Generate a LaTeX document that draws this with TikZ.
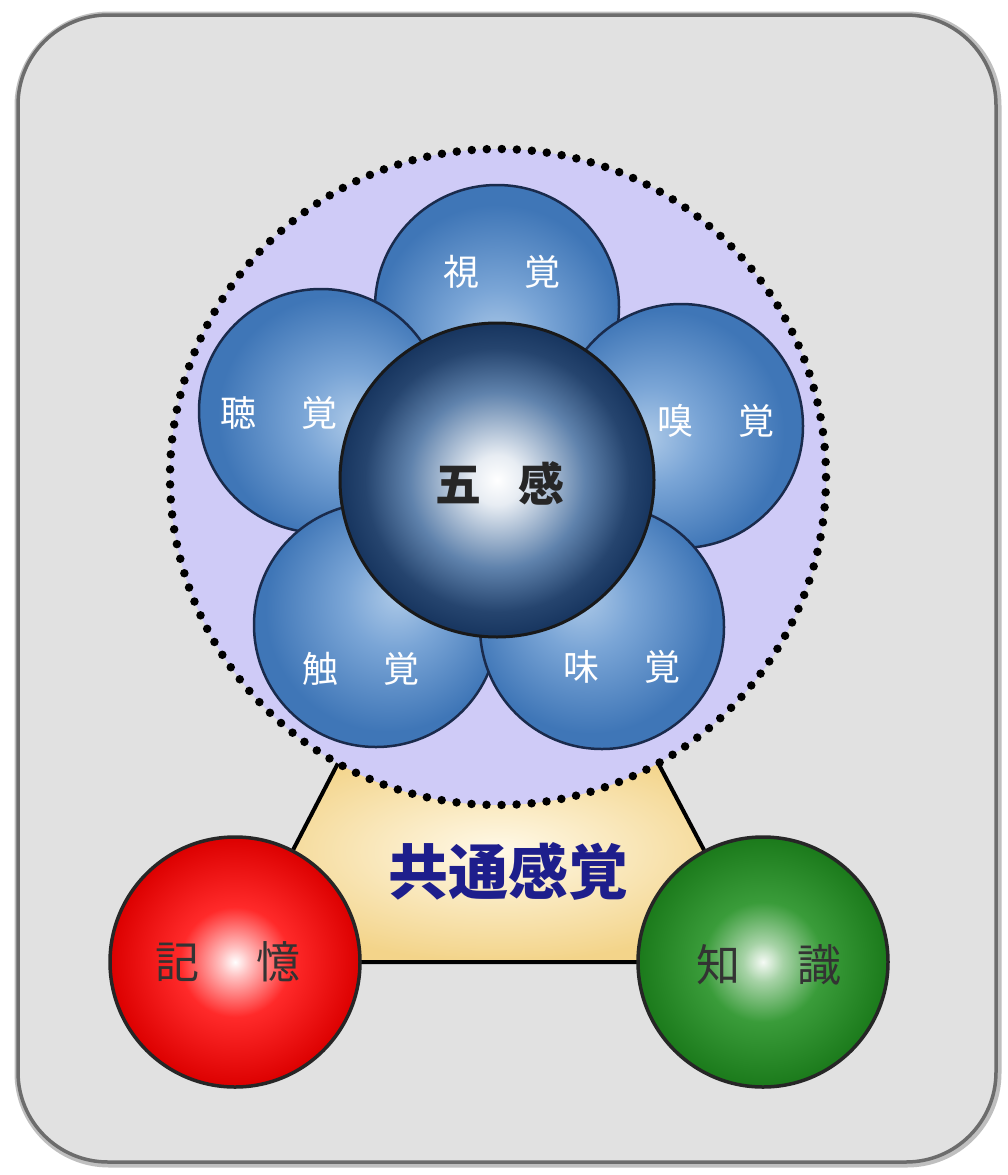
\documentclass[tikz,border=0pt]{standalone}
\usepackage{fontspec}
\setmainfont{Noto Sans CJK JP}
\usetikzlibrary{positioning}

\definecolor{framefill}{HTML}{E1E1E1}
\definecolor{framegray}{HTML}{6C6C6C}
\definecolor{lavender}{HTML}{CFCBF7}
\definecolor{petallight}{HTML}{AECAE8}
\definecolor{petalmid}{HTML}{7AA5D6}
\definecolor{petaldark}{HTML}{3F76B7}
\definecolor{petalline}{HTML}{1A2B4C}
\definecolor{spheremid}{HTML}{5F82AC}
\definecolor{spheredark}{HTML}{17355F}
\definecolor{redmid}{HTML}{FF2A2A}
\definecolor{reddark}{HTML}{DC0000}
\definecolor{greenmid}{HTML}{3A9C3A}
\definecolor{greendark}{HTML}{1B7A1B}
\definecolor{commonblue}{HTML}{1E1E8C}

\pgfdeclareradialshading{petalshade}{\pgfpoint{0bp}{-8bp}}{color(0bp)=(petallight); color(10bp)=(petalmid); color(25bp)=(petaldark); color(50bp)=(petaldark)}
\pgfdeclareradialshading{fiveshade}{\pgfpoint{0bp}{0bp}}{color(0bp)=(white); color(4bp)=(white!85!spheremid); color(14bp)=(spheremid); color(21bp)=(spheredark!80!spheremid); color(25bp)=(spheredark); color(50bp)=(spheredark)}
\pgfdeclareradialshading{redshade}{\pgfpoint{0bp}{0bp}}{color(0bp)=(white); color(3bp)=(white!70!redmid); color(11bp)=(redmid); color(25bp)=(reddark); color(50bp)=(reddark)}
\pgfdeclareradialshading{greenshade}{\pgfpoint{0bp}{0bp}}{color(0bp)=(white!95!greenmid); color(4bp)=(white!55!greenmid); color(12bp)=(greenmid); color(25bp)=(greendark); color(50bp)=(greendark)}

\begin{document}
\begin{tikzpicture}[
                x=1pt, y=-1pt,
                petal/.style={
                    circle,
                    draw=petalline,
                    line width=2.5pt,
                    minimum size=244pt,
                    inner sep=0,
                    shading=petalshade
                },
                sphere/.style={
                    circle,
                    draw=black!85,
                    line width=3.5pt,
                    minimum size=250pt,
                    inner sep=0
                },
                senselabel/.style={
                    text=white,
                    font=\fontsize{36}{40}\selectfont,
                    inner sep=0
                },
                ballabel/.style={
                    text=black!80,
                    font=\fontsize{44}{48}\selectfont,
                    inner sep=0
                }
            ]
            \fill[white] (0,0) rectangle (1008,1175);
            \useasboundingbox (0,0) rectangle (1008,1175);
            % 枠
            \draw[rounded corners=90pt, line width=9pt, black!25] (19,16) rectangle (997,1163);
            \draw[rounded corners=90pt, line width=3.5pt, draw=framegray, fill=framefill] (18,15) rectangle (996,1162);
            % 共通感覚
            \coordinate (tl) at (350,740);
            \coordinate (tr) at (646,740);
            \coordinate (br) at (763,962);
            \coordinate (bl) at (235,962);
            \shade[inner color={rgb,255:red,255;green,249;blue,232}, outer color={rgb,255:red,243;green,212;blue,138}]
                (tl) -- (tr) -- (br) -- (bl) -- cycle;
            \draw[line width=4pt, line join=round] (bl) -- (tl) -- (tr) -- (br) -- cycle;
            % 点線の円
            \node[circle, minimum size=656pt, inner sep=0, fill=lavender] (senses) at (498,477) {};
            \draw[dash pattern=on 0pt off 15.043pt, line cap=round, line width=8.5pt] (senses) circle[radius=328pt];
            % 五感
            \node[petal, shading angle=0] (sight) at (497,307) {};
            \node[petal, shading angle=72] (hearing) at (321,411) {};
            \node[petal, shading angle=288] (smell) at (681,426) {};
            \node[petal, shading angle=144] (touch) at (376,625) {};
            \node[petal, shading angle=216] (taste) at (602,627) {};
            \node[circle, draw=black!90, line width=3pt, minimum size=314pt, inner sep=0, shading=fiveshade] (five) at (497,480) {};
            \node[senselabel] at ([shift={(5,-35)}]sight) {視\hspace{46pt}覚};
            \node[senselabel] at ([shift={(-42,2)}]hearing) {聴\hspace{46pt}覚};
            \node[senselabel] at ([shift={(35,-5)}]smell) {嗅\hspace{46pt}覚};
            \node[senselabel] at ([shift={(-15,44)}]touch) {触\hspace{46pt}覚};
            \node[senselabel] at ([shift={(20,40)}]taste) {味\hspace{46pt}覚};
            \node[text=black!85, font=\fontsize{46}{50}\selectfont\bfseries, inner sep=0] at ([shift={(3,3)}]five) {五\hspace{37pt}感};
            % 記憶・知識
            \node[sphere, shading=redshade] (memory) at (bl) {};
            \node[sphere, shading=greenshade] (knowledge) at (br) {};
            \node[ballabel] at ([shift={(-7,0)}]memory) {記\hspace{57pt}憶};
            \node[ballabel] at ([shift={(6,3)}]knowledge) {知\hspace{57pt}識};
            \node[text=commonblue, font=\fontsize{60}{64}\selectfont\bfseries, inner sep=0] at (508,871) {共通感覚};
\end{tikzpicture}
\end{document}
